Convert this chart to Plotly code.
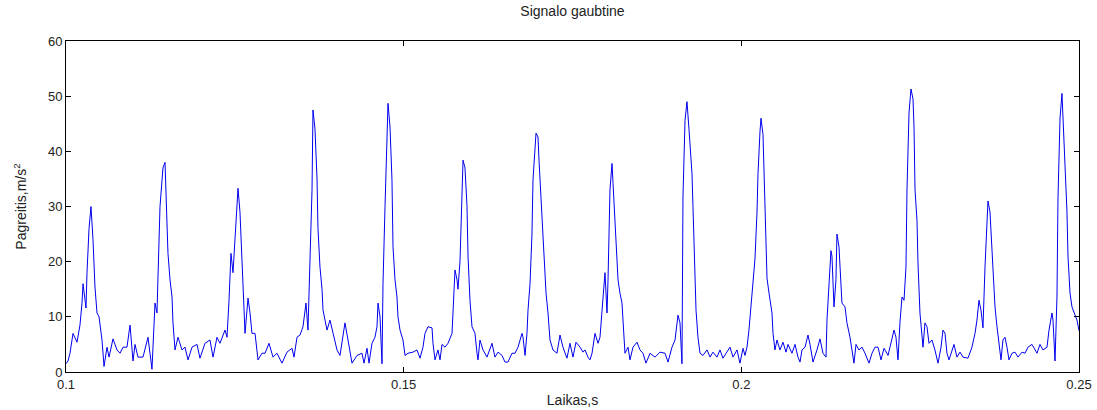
import plotly.graph_objects as go

# Sample times (ms) and acceleration envelope values (m/s^2)
T_MS = [100.00,100.30,100.59,101.04,101.63,102.07,102.37,102.52,102.96,103.11,103.41,103.70,104.00,104.29,104.59,104.89,105.33,105.63,106.07,106.37,106.96,107.55,108.00,108.44,109.03,109.48,109.92,110.22,110.66,111.40,112.14,112.73,113.18,113.47,113.92,114.36,114.66,114.96,115.10,115.40,115.70,115.84,116.14,116.58,117.18,117.62,118.07,118.66,119.40,119.84,120.58,121.32,121.77,122.36,122.80,123.54,123.84,124.14,124.43,124.73,125.02,125.47,125.76,126.06,126.21,126.51,126.95,127.25,127.54,127.99,128.43,129.02,129.47,130.06,130.65,131.24,131.98,132.72,133.47,133.76,134.21,134.65,135.09,135.54,135.83,136.13,136.43,136.57,136.87,137.17,137.31,137.61,137.91,138.06,138.65,139.09,139.54,140.13,140.57,141.02,141.31,141.76,142.35,143.09,143.83,144.13,144.57,144.87,145.31,145.75,146.05,146.20,146.50,146.79,146.94,147.24,147.53,147.68,147.98,148.27,148.42,148.72,149.01,149.16,149.46,149.90,150.20,150.64,151.38,151.97,152.42,152.86,153.16,153.60,154.20,154.34,154.64,155.08,155.38,155.68,156.12,156.56,157.16,157.30,157.60,157.90,158.04,158.34,158.64,158.79,159.08,159.38,159.53,159.82,160.12,160.56,160.86,161.01,161.30,161.75,162.34,163.08,163.52,163.97,164.56,165.00,165.45,166.04,166.49,166.93,167.52,167.67,167.97,168.26,168.41,168.71,169.00,169.15,169.60,169.89,170.04,170.34,170.63,170.78,171.08,171.37,171.67,172.11,172.70,173.15,173.59,174.18,174.63,175.07,175.52,176.11,176.55,176.85,177.29,177.59,177.89,178.33,178.78,179.07,179.37,179.52,179.81,180.11,180.26,180.55,180.85,181.00,181.29,181.59,181.74,182.03,182.33,182.48,182.77,183.22,183.51,183.96,184.55,184.99,185.44,185.88,186.48,187.22,187.96,188.70,189.14,189.73,190.18,190.62,190.92,191.21,191.36,191.66,191.95,192.25,192.40,192.69,192.84,192.99,193.14,193.29,193.58,193.88,194.32,194.92,195.36,195.80,196.40,196.84,197.28,197.88,198.32,198.77,199.36,199.80,200.25,200.54,200.84,201.13,201.43,201.73,202.02,202.32,202.47,202.76,202.91,203.21,203.36,203.65,203.80,204.10,204.54,204.69,204.98,205.28,205.72,206.17,206.61,206.91,207.50,207.95,208.39,208.69,208.98,209.43,209.87,210.17,210.61,211.20,211.65,212.09,212.54,212.68,212.98,213.27,213.42,213.72,214.01,214.16,214.46,214.76,214.90,215.35,215.64,216.09,216.39,216.68,216.98,217.42,217.87,218.31,218.90,219.35,219.79,220.24,220.68,221.13,221.72,222.16,222.61,222.90,223.20,223.49,223.79,224.09,224.38,224.53,224.83,225.12,225.42,225.57,225.72,226.01,226.16,226.45,226.75,226.90,227.19,227.49,227.79,228.23,228.67,229.12,229.57,229.86,230.16,230.45,230.75,231.19,231.49,231.93,232.38,232.82,233.56,234.15,234.60,234.89,235.19,235.49,235.78,236.08,236.38,236.52,236.82,237.12,237.26,237.56,237.86,238.15,238.45,238.74,239.04,239.34,239.63,240.08,240.52,240.97,241.56,242.00,242.45,243.04,243.48,243.78,244.23,244.67,245.26,245.56,246.00,246.15,246.45,246.74,246.89,247.19,247.48,247.63,247.93,248.22,248.37,248.67,248.96,249.26,249.70,250.00]

ACC = [1.5,2,3.4,7,5.4,8.5,12.5,16,11.6,18,26,30,24,15.4,10.7,10,5.8,1,4.5,2.7,6,4,3.4,4.5,4.5,8.5,2,5,2.7,2.7,6.3,0.5,12.5,10.7,30,37,38,29,21.5,16.7,13.6,8.9,4,6.3,4,4.5,2.2,4.5,5,2.5,5.2,5.8,2.7,6.3,5.2,7.6,6.3,13,21.5,18,23.4,33.3,29,20,13,7,13.4,10.7,7,7,2.2,3.4,3.4,5.2,2.7,3.4,1.6,3.6,4.3,2.7,6.3,6.7,8.2,12.5,7.6,20,33,47.5,44,35,26,19,15,11.2,7.6,9.4,7,4,3,7,8.9,5.8,1.6,3,3.4,1.6,4.3,1.6,5.2,6.3,8.2,12.5,10,1.5,16,30,42.6,48.7,44.4,34.8,22.7,16.7,13.6,10,7.6,5.8,3,3.4,3.6,4,2.5,4.5,7,8.2,8,5.2,2.2,4,2.2,5,4.5,5.2,7,11.8,18.5,16.7,15,20,30,38.4,37,30,21,13,8.2,7,3.4,2.2,5.8,4,2.7,5.2,2.7,3.6,3,1.8,1.8,3.4,3.4,4.5,7,6.3,3,7,11.2,16,25,34.8,43.3,42.6,38.4,31,24,19,14.3,10.7,5.8,4,3.4,6.7,4.5,2.5,5.2,2.7,5.4,4.5,3.6,4,2.7,2.2,3.4,7,5.2,6.3,10.7,13,18,10.7,16.7,33,37.8,34.2,27.5,19,16.7,14.3,12.5,9.4,3.4,4.5,2.2,4.5,5.4,4,3.4,1.6,3.4,2.7,3.6,3.4,1.8,4.5,5.8,10.3,8.9,1.5,31.7,45.6,49,44,41,36,30,24,17,11.2,6.3,3.4,3,4,2.7,3.6,2.7,4,2.5,3.6,4.5,2.7,4,1.6,4.3,3,4.5,7.6,11.8,15,20.5,29,36,43.5,46,43,35.4,24,17,14.3,10.7,7,4,5.8,4,5.4,3.6,5,3.4,5,2.7,1.8,4,4.5,6.7,5,1.8,4,6,3.4,2.7,9.4,16.7,22,21,11.8,16.7,25,22.7,16.7,12.5,11.8,8.9,6.3,4,1.6,5,4,4.5,3.4,1.6,3.4,4.5,4.5,2.2,4.3,3,5.2,7.6,6.3,2.2,9,13.6,13,19,33,47,51.3,49.5,44.4,33,27.5,19.6,10.7,5.8,4.5,8.9,8.2,5.2,5.8,4,1.6,4.5,7.6,7,3.4,2.2,4,5,2.7,3.6,2.7,2.5,4.5,7,9.4,13,11.2,8,19,27.5,31,29,21.5,16.7,11.8,8.2,5.4,2.2,5.8,6.3,4.5,2.2,3.4,3.6,2.7,3.6,3.4,4.5,5,4,3.4,5,4,4.5,7.6,10.7,9.4,2,13.6,31.6,46,50.5,46,37.8,29,21,14.3,11.8,10.7,9.4,7.5]

X_TICKS = [0.1, 0.15, 0.2, 0.25]
X_TICK_TEXT = ["0.1", "0.15", "0.2", "0.25"]
Y_TICKS = [0, 10, 20, 30, 40, 50, 60]

t_s = [t / 1000.0 for t in T_MS]

FONT = "Liberation Sans, Arial, sans-serif"

fig = go.Figure()
fig.add_trace(go.Scatter(x=t_s, y=ACC, mode="lines",
                         line=dict(color="#0000ee", width=1), showlegend=False,
                         hoverinfo="skip"))

axis_common = dict(showline=True, linecolor="black", linewidth=1, mirror="ticks",
                   ticks="inside", ticklen=5, tickcolor="black", showgrid=False,
                   zeroline=False, tickfont=dict(family=FONT, size=13, color="#222"))

fig.update_layout(
    width=1097, height=410,
    margin=dict(l=66, r=18, t=41, b=38),
    paper_bgcolor="white", plot_bgcolor="white",
    title=dict(text="Signalo gaubtine", x=0.5, xref="paper", xanchor="center",
               y=1, yref="container", yanchor="top", pad=dict(t=6),
               font=dict(family=FONT, size=14, color="#222")),
    xaxis=dict(range=[0.1, 0.25], tickvals=X_TICKS, ticktext=X_TICK_TEXT,
               title=dict(text="Laikas,s", standoff=4, font=dict(family=FONT, size=14, color="#222")),
               automargin=False, **axis_common),
    yaxis=dict(range=[0, 60], tickvals=Y_TICKS,
               title=dict(text="Pagreitis,m/s<sup>2</sup>", standoff=18, font=dict(family=FONT, size=14, color="#222")),
               automargin=False, **axis_common),
)

fig.write_html("out.html")
